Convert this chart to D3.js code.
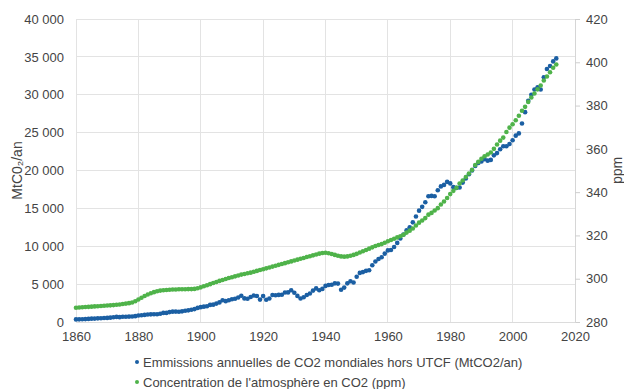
<!DOCTYPE html>
<html>
<head>
<meta charset="utf-8">
<script src="https://cdn.jsdelivr.net/npm/d3@7"></script>
<style>
  html, body { margin: 0; padding: 0; background: #fff; }
  svg { display: block; font-family: "Liberation Sans", Arial, sans-serif; }
</style>
</head>
<body>
<svg id="chart" width="624" height="389"></svg>
<script>
// ---- Data ----
const startYear = 1860;
const emissions = [ // MtCO2/an, 1860..2014
  340,350,360,385,410,440,450,480,495,520,
  540,575,635,675,640,690,700,715,720,770,
  865,890,940,1000,1010,1015,1030,1080,1200,1200,
  1305,1365,1370,1355,1405,1490,1540,1615,1705,1860,
  1960,2025,2075,2260,2290,2430,2590,2875,2750,2880,
  3000,3065,3225,3460,3115,3070,3305,3500,3430,2955,
  3420,2945,3100,3555,3530,3575,3605,3895,3905,4200,
  3860,3445,3105,3275,3570,3765,4145,4435,4190,4370,
  4765,4890,4920,5100,5070,4255,4540,5105,5385,5205,
  5975,6485,6585,6750,6840,7490,7985,8325,8545,9030,
  9450,9510,9900,10445,11030,11535,12120,12510,13155,13935,
  14700,15200,15800,16600,16650,16600,17400,17900,18100,18500,
  18300,17800,17700,17750,18400,18950,19500,20000,20600,21000,
  21200,21500,21300,21400,22000,22300,22800,23200,23200,23500,
  24000,24600,24900,26200,27700,29200,30000,30700,31000,30700,
  32300,33400,33800,34400,34800
];
const concentration = [ // ppm, 1860..2014
  286.6,286.7,286.8,286.9,287.0,287.1,287.2,287.3,287.4,287.5,
  287.6,287.7,287.8,288.0,288.1,288.3,288.5,288.7,289.0,289.6,
  290.4,291.2,292.0,292.7,293.3,293.8,294.2,294.5,294.7,294.8,
  294.9,295.0,295.0,295.1,295.1,295.1,295.2,295.2,295.3,295.6,
  296.0,296.5,297.0,297.5,298.0,298.5,299.0,299.4,299.9,300.3,
  300.7,301.1,301.5,301.9,302.2,302.5,302.8,303.2,303.6,304.0,
  304.4,304.8,305.2,305.6,306.0,306.4,306.8,307.2,307.6,308.0,
  308.4,308.8,309.2,309.6,310.0,310.4,310.8,311.2,311.6,311.9,
  312.0,311.8,311.4,311.0,310.6,310.3,310.2,310.3,310.6,311.0,
  311.5,312.1,312.7,313.3,313.9,314.5,315.1,315.6,316.0,316.6,
  317.3,317.9,318.5,319.1,319.6,320.3,321.3,322.2,323.2,324.6,
  325.9,326.9,328.0,329.6,330.4,331.5,332.6,334.3,335.7,337.3,
  339.1,340.6,342.0,344.0,345.4,347.0,348.6,350.3,352.5,354.0,
  355.4,356.6,357.4,358.3,360.0,362.0,363.8,365.2,367.8,369.8,
  371.4,373.2,375.3,377.6,379.4,381.7,383.7,385.6,387.5,389.3,
  391.6,393.4,395.4,397.5,399.0
];
const xTicks = [1860,1880,1900,1920,1940,1960,1980,2000,2020];
const yLeftTicks = [0,5000,10000,15000,20000,25000,30000,35000,40000];
const yRightTicks = [280,300,320,340,360,380,400,420];
const seriesNames = [
  "Emmissions annuelles de CO2 mondiales hors UTCF (MtCO2/an)",
  "Concentration de l'atmosphère en CO2 (ppm)"
];
const leftTitle = "MtC0₂/an";
const rightTitle = "ppm";

// ---- Layout ----
const colors = { blue: "#1b5fa3", green: "#4fb34a", grid: "#e3e3e3", text: "#444" };
const plot = { left: 76, right: 575, top: 19, bottom: 322 };
const svg = d3.select("#chart");

const x = d3.scaleLinear().domain([1860, 2020]).range([plot.left, plot.right]);
const yL = d3.scaleLinear().domain([0, 40000]).range([plot.bottom, plot.top]);
const yR = d3.scaleLinear().domain([280, 420]).range([plot.bottom, plot.top]);

const loc = d3.formatLocale({ decimal: ",", thousands: "\u00a0", grouping: [3], currency: ["", ""] });
const fmt = loc.format(",d");

// Grid
const g = svg.append("g");
g.selectAll("line.h").data(yLeftTicks).join("line")
  .attr("x1", plot.left).attr("x2", plot.right)
  .attr("y1", d => yL(d)).attr("y2", d => yL(d))
  .attr("stroke", colors.grid).attr("stroke-width", 1).attr("shape-rendering", "crispEdges");
g.selectAll("line.v").data(xTicks).join("line")
  .attr("y1", plot.top).attr("y2", plot.bottom)
  .attr("x1", d => x(d)).attr("x2", d => x(d))
  .attr("stroke", colors.grid).attr("stroke-width", 1).attr("shape-rendering", "crispEdges");

// Left axis (labels only)
const axL = svg.append("g").attr("transform", `translate(${plot.left},0)`)
  .call(d3.axisLeft(yL).tickValues(yLeftTicks).tickFormat(fmt).tickSize(0).tickPadding(12));
axL.select(".domain").remove();
axL.selectAll("text").attr("font-size", 13).attr("fill", colors.text)
  .attr("font-family", "Liberation Sans, Arial, sans-serif");

// Right axis
const axR = svg.append("g").attr("transform", `translate(${plot.right},0)`)
  .call(d3.axisRight(yR).tickValues(yRightTicks).tickSize(5).tickPadding(6));
axR.select(".domain").attr("stroke", "#d6d6d6");
axR.selectAll(".tick line").attr("stroke", "#cfcfcf");
axR.selectAll("text").attr("font-size", 13).attr("fill", colors.text)
  .attr("font-family", "Liberation Sans, Arial, sans-serif");

// Bottom axis
const axB = svg.append("g").attr("transform", `translate(0,${plot.bottom})`)
  .call(d3.axisBottom(x).tickValues(xTicks).tickFormat(d3.format("d")).tickSize(0).tickPadding(10));
axB.select(".domain").attr("stroke", "#dcdcdc");
axB.selectAll("text").attr("font-size", 13).attr("fill", colors.text)
  .attr("font-family", "Liberation Sans, Arial, sans-serif");

// Axis titles
svg.append("text").text(leftTitle)
  .attr("transform", `translate(22,${(plot.top + plot.bottom) / 2}) rotate(-90)`)
  .attr("text-anchor", "middle").attr("font-size", 14).attr("fill", colors.text);
svg.append("text").text(rightTitle)
  .attr("transform", `translate(622,${(plot.top + plot.bottom) / 2}) rotate(-90)`)
  .attr("text-anchor", "middle").attr("font-size", 14).attr("fill", colors.text);

// Points
const r = 2.3;
svg.append("g").selectAll("circle").data(emissions).join("circle")
  .attr("cx", (d, i) => x(startYear + i)).attr("cy", d => yL(d))
  .attr("r", r).attr("fill", colors.blue);
svg.append("g").selectAll("circle").data(concentration).join("circle")
  .attr("cx", (d, i) => x(startYear + i)).attr("cy", d => yR(d))
  .attr("r", r).attr("fill", colors.green);

// Legend
const leg = svg.append("g");
const legColors = [colors.blue, colors.green];
seriesNames.forEach((name, i) => {
  const yy = 362 + i * 20;
  leg.append("circle").attr("cx", 137).attr("cy", yy).attr("r", 2).attr("fill", legColors[i]);
  leg.append("text").attr("x", 143).attr("y", yy + 4.5).text(name)
    .attr("font-size", 13).attr("fill", colors.text);
});
</script>
</body>
</html>
